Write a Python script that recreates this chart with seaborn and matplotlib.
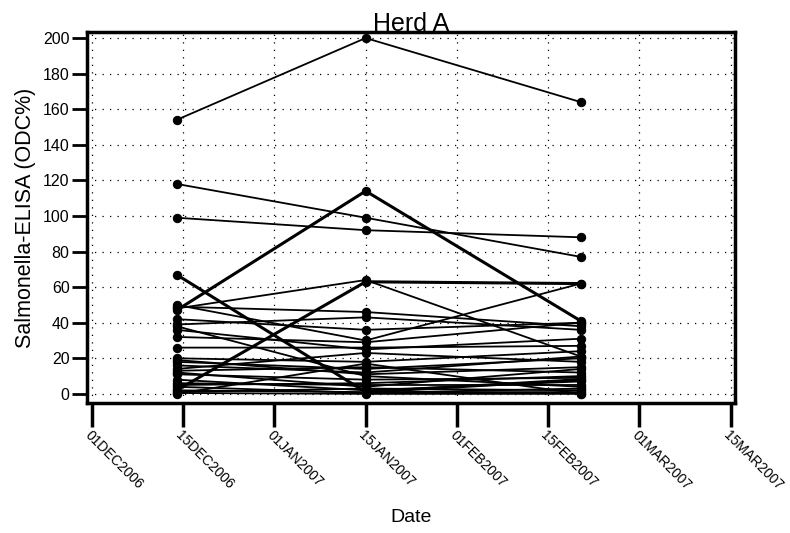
import numpy as np
import pandas as pd
import matplotlib
matplotlib.use("Agg")
import matplotlib.pyplot as plt
import seaborn as sns

# ---- data ----
sample_dates = ["2006-12-14", "2007-01-15", "2007-02-20"]
tick_dates = ["2006-12-01", "2006-12-15", "2007-01-01", "2007-01-15",
              "2007-02-01", "2007-02-15", "2007-03-01", "2007-03-15"]
tick_labels = ["01DEC2006", "15DEC2006", "01JAN2007", "15JAN2007",
               "01FEB2007", "15FEB2007", "01MAR2007", "15MAR2007"]

visit1 = [154, 118, 99, 47, 67, 2, 48, 50, 49, 42, 39, 36, 32, 26, 20, 19, 16, 14, 13, 11,
          8, 6, 4, 2, 1, 0.5, 5, 12, 38, 0, 18]
visit2 = [200, 99, 92, 114, 1, 63, 64, 30, 46, 36, 43, 25, 29, 26, 18, 11, 12, 23, 15, 8,
          2, 5, 0.5, 1, 3, 0, 6, 4, 10, 17, 14]
visit3 = [164, 77, 88, 41, 8, 62, 21, 62, 38, 40, 36, 31, 40, 27, 24, 15, 21, 18, 12, 9,
          7, 5, 3, 1, 2, 0, 10, 14, 4, 0, 20]
thick = [3, 4, 5]  # indices of lines drawn heavier

# ---- build long table ----
rows = []
for i, vals in enumerate(zip(visit1, visit2, visit3)):
    for d, v in zip(sample_dates, vals):
        rows.append({"animal": i, "date": d, "odc": v, "thick": i in thick})
df = pd.DataFrame(rows)

# Axis is drawn with evenly spaced semi-monthly ticks (as in the source)
tick_ord = pd.to_datetime(pd.Series(tick_dates)).map(pd.Timestamp.toordinal).values
df["pos"] = np.interp(pd.to_datetime(df["date"]).map(pd.Timestamp.toordinal).values,
                      tick_ord, np.arange(len(tick_ord)))

sns.set_theme(style="white")
plt.rcParams["font.family"] = ["Liberation Sans", "DejaVu Sans"]
plt.rcParams["text.color"] = "black"
plt.rcParams["axes.labelcolor"] = "black"
plt.rcParams["xtick.color"] = "black"
plt.rcParams["ytick.color"] = "black"

fig = plt.figure(figsize=(7.9, 5.33), dpi=100)
ax = fig.add_axes([0.110, 0.244, 0.820, 0.696])

thin_df = df[~df["thick"]]
thick_df = df[df["thick"]]
sns.lineplot(data=thin_df, x="pos", y="odc", units="animal", estimator=None,
             color="black", linewidth=1.3, marker="o", markersize=6,
             markeredgecolor="black", sort=False, ax=ax, legend=False)
sns.lineplot(data=thick_df, x="pos", y="odc", units="animal", estimator=None,
             color="black", linewidth=2.2, marker="o", markersize=6,
             markeredgecolor="black", sort=False, ax=ax, legend=False)

ax.set_xlim(-0.055, 7.044)
ax.set_ylim(-5.1, 203.4)
ax.set_yticks(np.arange(0, 201, 20))
ax.set_xticks(np.arange(len(tick_labels)))
ax.set_xticklabels(tick_labels, rotation=-45, ha="left", va="top",
                   rotation_mode="anchor", fontsize=10)
ax.tick_params(axis="y", direction="out", length=11, width=2, labelsize=11.5, pad=1.5, left=True)
ax.tick_params(axis="x", direction="out", length=17, width=2.5, pad=1, bottom=True)

ax.grid(True, which="major", color="black", linestyle=(0, (1, 5)), linewidth=0.9)
for s in ax.spines.values():
    s.set_visible(True)
    s.set_color("black")
    s.set_linewidth(2.5)

ax.set_title("Herd A", fontsize=18, pad=1, color="black", fontweight="normal")
ax.set_xlabel("Date", fontsize=14, labelpad=12)
ax.set_ylabel("Salmonella-ELISA (ODC%)", fontsize=15.5, labelpad=5)

fig.savefig("out.png", dpi=100)
